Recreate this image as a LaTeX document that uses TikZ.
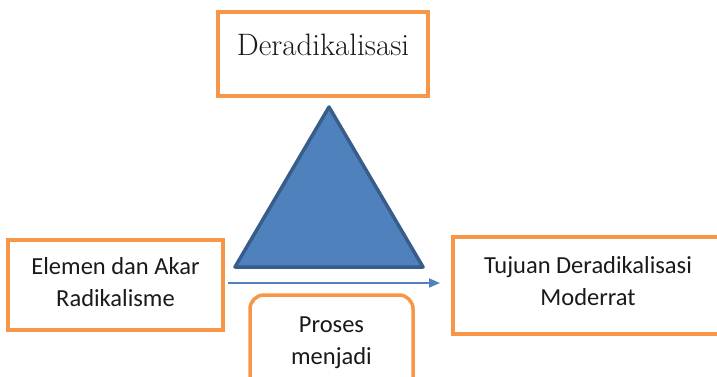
\documentclass[tikz,border=0pt]{standalone}
\usepackage{fontspec}
\setsansfont{Carlito}
\usetikzlibrary{arrows.meta}
\definecolor{orng}{HTML}{F79646}
\definecolor{bfill}{HTML}{4F81BD}
\definecolor{bdark}{HTML}{385D8A}
\definecolor{txt}{HTML}{1A1A1A}
\begin{document}
\begin{tikzpicture}[x=1pt,y=-1pt,
  obox/.style={draw=orng,line width=3.5pt,fill=white,inner sep=0pt},
  lbl/.style={inner sep=0pt,align=center,text=txt},
  sanstext/.style={font=\sffamily\fontsize{24.5}{32}\selectfont},
]
\useasboundingbox (0,0) rectangle (717,377);
\clip (0,0) rectangle (717,377);
\node[obox,minimum width=210,minimum height=84] (top) at (323,54) {};
\node[lbl,font=\fontsize{31}{36}\selectfont] (toptext) at ([yshift=9pt]top.center) {Deradikalisasi};
\coordinate (apex) at (329,107);
\coordinate (bl) at (235,267);
\coordinate (br) at (423,267);
\draw[fill=bfill,draw=bdark,line width=3.5pt,line join=round] (apex) -- (br) -- (bl) -- cycle;
\node[obox,minimum width=215,minimum height=90] (left) at (115.5,285) {};
\node[lbl,sanstext] (lefttext) at ([yshift=3pt]left.center) {Elemen dan Akar\\Radikalisme};
\node[obox,minimum width=270,minimum height=97] (right) at (588,285.5) {};
\node[lbl,sanstext] (righttext) at ([yshift=4pt]right.center) {Tujuan Deradikalisasi\\Moderrat};
\node[obox,rounded corners=14pt,minimum width=163,minimum height=100] (proc) at (331.5,345) {};
\node[lbl,sanstext] (proctext) at ([yshift=2pt]proc.center) {Proses\\menjadi};
\coordinate (as) at (228,283);
\coordinate (ae) at (440,283);
\draw[bfill,line width=1.6pt,-{Triangle[length=11pt,width=9pt]}] (as) -- (ae);
\end{tikzpicture}
\end{document}
